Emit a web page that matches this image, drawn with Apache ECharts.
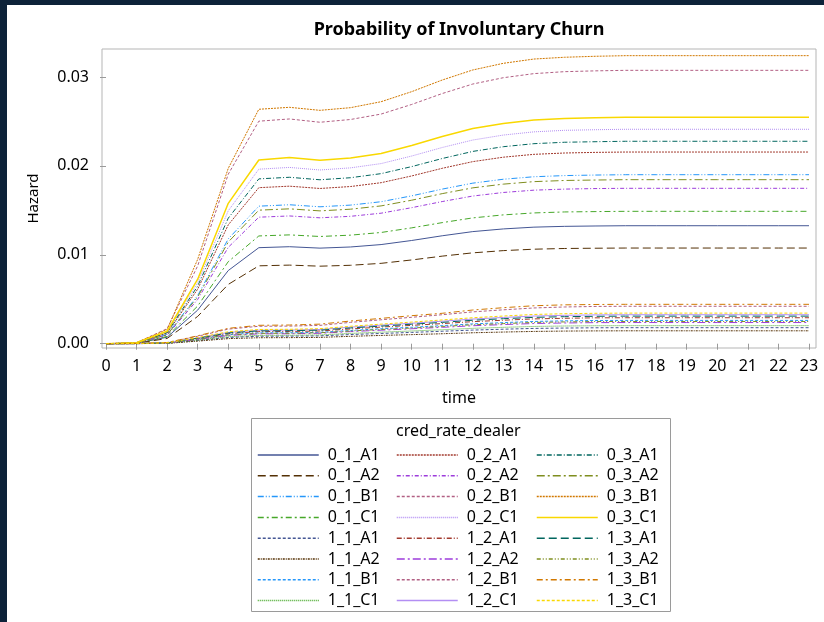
<!DOCTYPE html>
<html>
<head>
<meta charset="utf-8">
<script src="https://cdn.jsdelivr.net/npm/echarts@6/dist/echarts.min.js"></script>
<style>
  html, body { margin: 0; padding: 0; background: #fff; }
  #chart { width: 824px; height: 622px; }
</style>
</head>
<body>
<div id="chart"></div>
<script>
// time axis
const times = [0,1,2,3,4,5,6,7,8,9,10,11,12,13,14,15,16,17,18,19,20,21,22,23]
const xTicks = times
const yTicks = [0, 0.01, 0.02, 0.03]

// hazard per group
const h_0_1_A1 = [0,0.00005,0.00073,0.00378,0.00823,0.01080,0.01091,0.01075,0.01088,0.01115,0.01161,0.01214,0.01261,0.01291,0.01311,0.01320,0.01324,0.01327,0.01327,0.01327,0.01327,0.01327,0.01327,0.01327]
const h_0_1_A2 = [0,0.00004,0.00059,0.00307,0.00667,0.00876,0.00884,0.00872,0.00882,0.00904,0.00942,0.00985,0.01022,0.01047,0.01063,0.01071,0.01074,0.01076,0.01076,0.01076,0.01076,0.01076,0.01076,0.01076]
const h_0_1_B1 = [0,0.00008,0.00105,0.00542,0.01179,0.01547,0.01563,0.01540,0.01559,0.01597,0.01663,0.01739,0.01806,0.01850,0.01878,0.01891,0.01897,0.01901,0.01901,0.01901,0.01901,0.01901,0.01901,0.01901]
const h_0_1_C1 = [0,0.00006,0.00082,0.00424,0.00923,0.01212,0.01224,0.01206,0.01221,0.01251,0.01303,0.01362,0.01415,0.01449,0.01471,0.01482,0.01486,0.01489,0.01489,0.01489,0.01489,0.01489,0.01489,0.01489]
const h_0_2_A1 = [0,0.00009,0.00119,0.00614,0.01337,0.01755,0.01772,0.01746,0.01768,0.01811,0.01887,0.01973,0.02048,0.02098,0.02130,0.02145,0.02152,0.02156,0.02156,0.02156,0.02156,0.02156,0.02156,0.02156]
const h_0_2_A2 = [0,0.00007,0.00096,0.00498,0.01084,0.01423,0.01437,0.01416,0.01433,0.01468,0.01530,0.01599,0.01661,0.01701,0.01727,0.01739,0.01745,0.01748,0.01748,0.01748,0.01748,0.01748,0.01748,0.01748]
const h_0_2_B1 = [0,0.00012,0.00169,0.00876,0.01907,0.02503,0.02528,0.02491,0.02522,0.02583,0.02691,0.02814,0.02921,0.02992,0.03038,0.03060,0.03069,0.03075,0.03075,0.03075,0.03075,0.03075,0.03075,0.03075]
const h_0_2_C1 = [0,0.00010,0.00133,0.00687,0.01495,0.01963,0.01983,0.01954,0.01978,0.02026,0.02111,0.02207,0.02291,0.02347,0.02383,0.02400,0.02407,0.02412,0.02412,0.02412,0.02412,0.02412,0.02412,0.02412]
const h_0_3_A1 = [0,0.00009,0.00125,0.00649,0.01412,0.01854,0.01872,0.01844,0.01867,0.01913,0.01992,0.02083,0.02163,0.02216,0.02250,0.02266,0.02272,0.02277,0.02277,0.02277,0.02277,0.02277,0.02277,0.02277]
const h_0_3_A2 = [0,0.00007,0.00101,0.00526,0.01144,0.01502,0.01517,0.01494,0.01513,0.01550,0.01614,0.01688,0.01753,0.01795,0.01823,0.01836,0.01841,0.01845,0.01845,0.01845,0.01845,0.01845,0.01845,0.01845]
const h_0_3_B1 = [0,0.00013,0.00160,0.00950,0.01973,0.02637,0.02659,0.02625,0.02655,0.02722,0.02835,0.02966,0.03079,0.03154,0.03202,0.03222,0.03233,0.03240,0.03240,0.03240,0.03240,0.03240,0.03240,0.03240]
const h_0_3_C1 = [0,0.00010,0.00140,0.00726,0.01579,0.02066,0.02094,0.02063,0.02089,0.02139,0.02229,0.02331,0.02420,0.02478,0.02516,0.02534,0.02542,0.02547,0.02547,0.02547,0.02547,0.02547,0.02547,0.02547]

const h_1_1_A1 = [0,0.00001,0.00005,0.00036,0.00070,0.00084,0.00085,0.00088,0.00103,0.00115,0.00127,0.00140,0.00153,0.00163,0.00172,0.00176,0.00179,0.00180,0.00180,0.00180,0.00180,0.00180,0.00180,0.00180]
const h_1_1_A2 = [0,0.00001,0.00004,0.00029,0.00057,0.00067,0.00068,0.00071,0.00083,0.00093,0.00102,0.00112,0.00123,0.00131,0.00138,0.00142,0.00144,0.00145,0.00145,0.00145,0.00145,0.00145,0.00145,0.00145]
const h_1_1_B1 = [0,0.00001,0.00008,0.00052,0.00102,0.00122,0.00123,0.00128,0.00149,0.00168,0.00185,0.00203,0.00223,0.00237,0.00250,0.00257,0.00261,0.00262,0.00262,0.00262,0.00262,0.00262,0.00262,0.00262]
const h_1_1_C1 = [0,0.00001,0.00006,0.00041,0.00079,0.00094,0.00095,0.00099,0.00116,0.00130,0.00143,0.00157,0.00173,0.00184,0.00194,0.00199,0.00202,0.00203,0.00203,0.00203,0.00203,0.00203,0.00203,0.00203]
const h_1_2_A1 = [0,0.00001,0.00009,0.00058,0.00114,0.00136,0.00137,0.00143,0.00166,0.00187,0.00206,0.00226,0.00248,0.00264,0.00279,0.00286,0.00291,0.00292,0.00292,0.00292,0.00292,0.00292,0.00292,0.00292]
const h_1_2_A2 = [0,0.00001,0.00007,0.00048,0.00093,0.00111,0.00112,0.00117,0.00136,0.00152,0.00168,0.00184,0.00202,0.00215,0.00227,0.00233,0.00237,0.00238,0.00238,0.00238,0.00238,0.00238,0.00238,0.00238]
const h_1_2_B1 = [0,0.00002,0.00013,0.00084,0.00164,0.00196,0.00198,0.00206,0.00240,0.00269,0.00297,0.00326,0.00358,0.00381,0.00402,0.00413,0.00419,0.00421,0.00421,0.00421,0.00421,0.00421,0.00421,0.00421]
const h_1_2_C1 = [0,0.00002,0.00010,0.00065,0.00127,0.00152,0.00153,0.00160,0.00186,0.00209,0.00230,0.00253,0.00277,0.00295,0.00311,0.00319,0.00324,0.00326,0.00326,0.00326,0.00326,0.00326,0.00326,0.00326]
const h_1_3_A1 = [0,0.00002,0.00009,0.00062,0.00121,0.00144,0.00146,0.00152,0.00177,0.00198,0.00219,0.00240,0.00264,0.00281,0.00296,0.00304,0.00308,0.00310,0.00310,0.00310,0.00310,0.00310,0.00310,0.00310]
const h_1_3_A2 = [0,0.00001,0.00008,0.00050,0.00098,0.00116,0.00118,0.00123,0.00143,0.00160,0.00176,0.00194,0.00213,0.00226,0.00239,0.00245,0.00249,0.00250,0.00250,0.00250,0.00250,0.00250,0.00250,0.00250]
const h_1_3_B1 = [0,0.00002,0.00013,0.00089,0.00173,0.00207,0.00210,0.00220,0.00255,0.00285,0.00315,0.00342,0.00379,0.00405,0.00427,0.00437,0.00441,0.00443,0.00443,0.00443,0.00443,0.00443,0.00443,0.00443]
const h_1_3_C1 = [0,0.00002,0.00010,0.00069,0.00134,0.00160,0.00162,0.00169,0.00196,0.00220,0.00243,0.00267,0.00292,0.00311,0.00329,0.00337,0.00342,0.00344,0.00344,0.00344,0.00344,0.00344,0.00344,0.00344]

const groupNames = ['0_1_A1','0_1_A2','0_1_B1','0_1_C1','0_2_A1','0_2_A2','0_2_B1','0_2_C1','0_3_A1','0_3_A2','0_3_B1','0_3_C1',
  '1_1_A1','1_1_A2','1_1_B1','1_1_C1','1_2_A1','1_2_A2','1_2_B1','1_2_C1','1_3_A1','1_3_A2','1_3_B1','1_3_C1']
const groupValues = [h_0_1_A1,h_0_1_A2,h_0_1_B1,h_0_1_C1,h_0_2_A1,h_0_2_A2,h_0_2_B1,h_0_2_C1,h_0_3_A1,h_0_3_A2,h_0_3_B1,h_0_3_C1,
  h_1_1_A1,h_1_1_A2,h_1_1_B1,h_1_1_C1,h_1_2_A1,h_1_2_A2,h_1_2_B1,h_1_2_C1,h_1_3_A1,h_1_3_A2,h_1_3_B1,h_1_3_C1]

// SAS-like colours and line patterns
const styles = {
  '0_1_A1': ['#445694', 'solid'],
  '0_1_A2': ['#543005', [8, 4]],
  '0_1_B1': ['#2597FA', [6, 2, 1, 2, 1, 2]],
  '0_1_C1': ['#47A82A', [6, 3, 2, 3]],
  '0_2_A1': ['#A23A2E', [2, 1]],
  '0_2_A2': ['#9D3CDB', [4, 2, 1, 2]],
  '0_2_B1': ['#B26084', [3, 2]],
  '0_2_C1': ['#B38EF3', [1, 1]],
  '0_3_A1': ['#01665E', [5, 2, 1, 2]],
  '0_3_A2': ['#7F8E1F', [8, 3, 2, 3]],
  '0_3_B1': ['#D17800', [2, 1]],
  '0_3_C1': ['#F9D800', 'solid'],
  '1_1_A1': ['#445694', [3, 2]],
  '1_1_A2': ['#543005', [2, 1, 1, 1]],
  '1_1_B1': ['#2597FA', [3, 2]],
  '1_1_C1': ['#47A82A', [1, 1]],
  '1_2_A1': ['#A23A2E', [5, 2, 1, 2]],
  '1_2_A2': ['#9D3CDB', [8, 3, 2, 3]],
  '1_2_B1': ['#B26084', [3, 2]],
  '1_2_C1': ['#B38EF3', 'solid'],
  '1_3_A1': ['#01665E', [8, 4]],
  '1_3_A2': ['#7F8E1F', [4, 2, 1, 2, 1, 2]],
  '1_3_B1': ['#D17800', [6, 3, 2, 3]],
  '1_3_C1': ['#F9D800', [3, 2]]
}

const FONT = 'Noto Sans'
const chart = echarts.init(document.getElementById('chart'), null, { renderer: 'canvas' })

const series = groupNames.map((name, i) => ({
  name,
  type: 'line',
  symbol: 'none',
  smooth: false,
  data: times.map((t, j) => [t, groupValues[i][j]]),
  lineStyle: {
    color: styles[name][0],
    type: styles[name][1],
    width: name === '0_3_C1' ? 1.5 : 1
  },
  itemStyle: { color: styles[name][0] }
}))

// one vertical legend column per middle digit (_1_, _2_, _3_)
const legendCol = (k, left) => ({
  orient: 'vertical',
  left,
  top: 447,
  height: 200,
  padding: 0,
  itemWidth: 61,
  itemHeight: 14,
  itemGap: 4.8,
  selectedMode: false,
  itemStyle: { opacity: 0 },
  lineStyle: { width: 1.5 },
  textStyle: { fontFamily: FONT, fontSize: 16, lineHeight: 14, color: '#000', padding: [0, 0, 0, 4] },
  data: groupNames.filter((n) => n[2] === String(k))
})

chart.setOption({
  backgroundColor: '#fff',
  animation: false,
  title: {
    text: 'Probability of Involuntary Churn',
    left: 459,
    textAlign: 'center',
    top: 21,
    padding: 0,
    textStyle: { fontFamily: FONT, fontSize: 18, fontWeight: 'bold', color: '#000' }
  },
  grid: {
    left: 102,
    top: 49,
    right: 8,
    bottom: 274,
    show: true,
    borderColor: '#b5b5b5',
    borderWidth: 1,
    containLabel: false
  },
  xAxis: {
    type: 'value',
    min: -0.131,
    max: 23.229,
    name: 'time',
    nameLocation: 'middle',
    nameGap: 42,
    nameTextStyle: { fontFamily: FONT, fontSize: 16, color: '#000' },
    axisLine: { show: false },
    splitLine: { show: false },
    axisTick: { show: true, length: 6, customValues: xTicks, lineStyle: { color: '#9a9a9a' } },
    axisLabel: { customValues: xTicks, margin: 10, fontFamily: FONT, fontSize: 16, color: '#000' }
  },
  yAxis: {
    type: 'value',
    min: -0.000484,
    max: 0.03315,
    name: 'Hazard',
    nameLocation: 'middle',
    nameGap: 61,
    nameTextStyle: { fontFamily: FONT, fontSize: 15, color: '#000' },
    axisLine: { show: false },
    splitLine: { show: false },
    axisTick: { show: true, length: 6, customValues: yTicks, lineStyle: { color: '#9a9a9a' } },
    axisLabel: {
      customValues: yTicks,
      margin: 13,
      fontFamily: FONT,
      fontSize: 16,
      color: '#000',
      formatter: (v) => v.toFixed(2)
    }
  },
  legend: [legendCol(1, 257), legendCol(2, 396), legendCol(3, 536)],
  graphic: [
    { type: 'rect', left: 249, top: 416, shape: { width: 419, height: 193 },
      style: { fill: 'none', stroke: '#9a9a9a', lineWidth: 1 }, z: 1 },
    { type: 'text', left: 396, top: 423,
      style: { text: 'cred_rate_dealer', font: '16px "Noto Sans"', fill: '#000' }, z: 2 },
    { type: 'rect', left: 0, top: 0, shape: { width: 824, height: 5 }, style: { fill: '#0d2239' }, z: 10 },
    { type: 'rect', left: 0, top: 0, shape: { width: 7, height: 622 }, style: { fill: '#0d2239' }, z: 10 }
  ],
  series
})
</script>
</body>
</html>
